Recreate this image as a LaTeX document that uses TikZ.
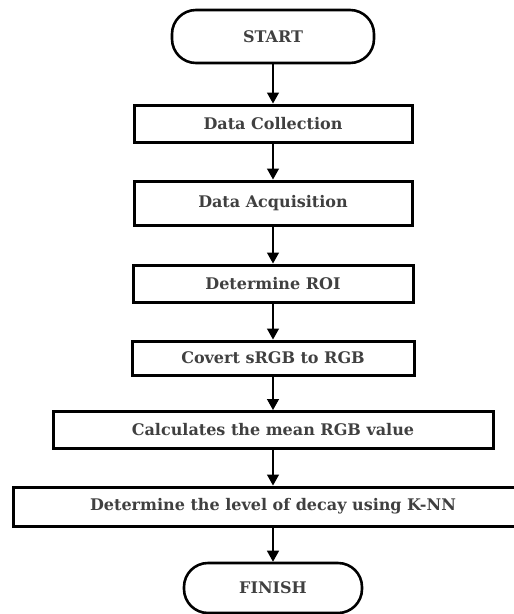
\documentclass[tikz,border=0pt]{standalone}
\usepackage{fontspec}
\setmainfont{DejaVu Serif}
\usetikzlibrary{arrows.meta}
\begin{document}
\begin{tikzpicture}[x=1pt, y=-1pt,
        terminal/.style={draw, line width=2.6pt, rounded corners=24pt, inner sep=0pt,
            font=\fontsize{16}{18}\selectfont\bfseries, text=black!75},
        process/.style={draw, line width=3pt, minimum height=37pt, inner sep=0pt,
            font=\fontsize{16}{18}\selectfont\bfseries, text=black!75},
        flow/.style={-{Triangle[length=11pt,width=12pt]}, line width=1.4pt}]

        \useasboundingbox (0,0) rectangle (514,614);

        % Terminals
        \node[terminal, minimum width=202pt, minimum height=53pt] (start) at (273,36.5) {START};
        \node[terminal, minimum width=178pt, minimum height=50pt] (finish) at (273,588) {FINISH};

        % Steps
        \node[process, minimum width=278pt] (collect) at (273,123.5) {Data Collection};
        \node[process, minimum width=278pt, minimum height=44pt] (acquire) at (273,203) {Data Acquisition};
        \node[process, minimum width=280pt] (roi) at (273,283.5) {Determine ROI};
        \node[process, minimum width=282pt, minimum height=34pt] (convert) at (273,358) {Covert sRGB to RGB};
        \node[process, minimum width=440pt] (mean) at (273,430) {Calculates the mean RGB value};
        \node[process, minimum width=520pt, minimum height=39pt] (decay) at (273,506.5) {Determine the level of decay using K-NN};

        % Flow
        \draw[flow] (start) -- (collect);
        \draw[flow] (collect) -- (acquire);
        \draw[flow] (acquire) -- (roi);
        \draw[flow] (roi) -- (convert);
        \draw[flow] (convert) -- (mean);
        \draw[flow] (mean) -- (decay);
        \draw[flow] (decay) -- (finish);
    \end{tikzpicture}
\end{document}
